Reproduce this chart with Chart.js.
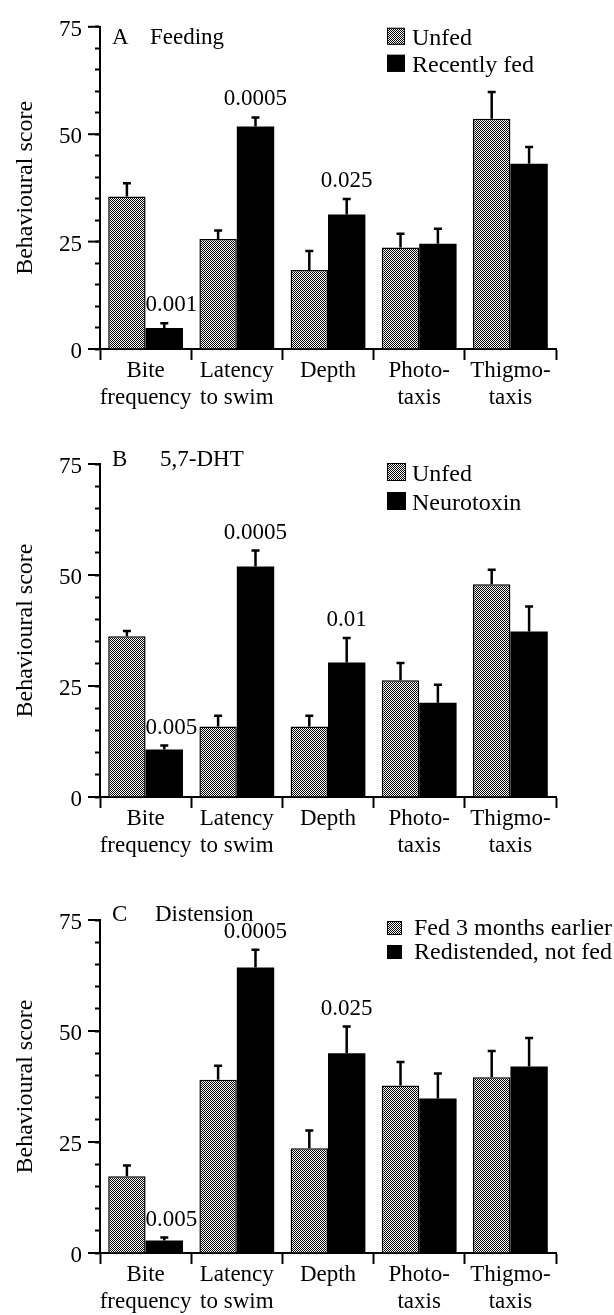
<!DOCTYPE html>
<html>
<head>
<meta charset="utf-8">
<script src="https://cdn.jsdelivr.net/npm/chart.js@4"></script>
<style>
  body { margin: 0; background: #fff; }
  .panel { position: relative; width: 614px; }
</style>
</head>
<body>
<div class="panel" style="height:430px"><canvas id="chartA"></canvas></div>
<div class="panel" style="height:440px"><canvas id="chartB"></canvas></div>
<div class="panel" style="height:445px"><canvas id="chartC"></canvas></div>
<script>
// categories (two-line labels)
const categories = [['Bite', 'frequency'], ['Latency', 'to swim'], ['Depth'], ['Photo-', 'taxis'], ['Thigmo-', 'taxis']];
const yMajorTicks = [0, 25, 50, 75];

// A  Feeding
const feedingUnfed = [35.5, 25.6, 18.4, 23.6, 53.6];
const feedingUnfedErr = [3.1, 2.0, 4.4, 3.2, 6.2];
const feedingFed = [4.9, 51.8, 31.3, 24.5, 43.1];
const feedingFedErr = [1.1, 2.1, 3.6, 3.5, 3.9];
const feedingP = ['0.001', '0.0005', '0.025', '', ''];

// B  5,7-DHT
const dhtUnfed = [36.2, 15.9, 15.9, 26.3, 47.9];
const dhtUnfedErr = [1.2, 2.4, 2.4, 3.9, 3.3];
const dhtToxin = [10.7, 51.9, 30.3, 21.2, 37.3];
const dhtToxinErr = [0.9, 3.6, 5.5, 4.1, 5.6];
const dhtP = ['0.005', '0.0005', '0.01', '', ''];

// C  Distension
const distFed = [17.3, 39.0, 23.6, 37.7, 39.6];
const distFedErr = [2.4, 3.2, 4.0, 5.3, 5.9];
const distRedist = [2.8, 64.3, 45.0, 34.8, 42.0];
const distRedistErr = [0.7, 4.0, 6.0, 5.6, 6.4];
const distP = ['0.005', '0.0005', '0.025', '', ''];

const FONT = '"Liberation Serif", "Times New Roman", serif';
const FS = 23;
Chart.defaults.font.family = FONT;
Chart.defaults.color = '#000';

// fine checker fill for the light bars
function makeHatch() {
    const c = document.createElement('canvas');
    c.width = 4; c.height = 4;
    const g = c.getContext('2d');
    g.fillStyle = '#fff';
    g.fillRect(0, 0, 4, 4);
    g.fillStyle = '#000';
    for (let y = 0; y < 4; y++) {
        for (let x = 0; x < 4; x++) {
            if ((x + y) % 2 === 0) g.fillRect(x, y, 1, 1);
        }
    }
    return g.createPattern(c, 'repeat');
}
const hatch = makeHatch();

// error bars, p values, legend, panel title, long ticks
const decor = {
    id: 'decor',
    afterDatasetsDraw(chart, args, opts) {
        const ctx = chart.ctx, y = chart.scales.y;
        ctx.save();
        ctx.strokeStyle = '#000';
        ctx.lineWidth = 2.5;
        chart.data.datasets.forEach((ds, d) => {
            chart.getDatasetMeta(d).data.forEach((bar, i) => {
                const top = y.getPixelForValue(ds.data[i] + ds.errors[i]);
                ctx.beginPath();
                ctx.moveTo(bar.x, bar.y);
                ctx.lineTo(bar.x, top);
                ctx.moveTo(bar.x - 4, top);
                ctx.lineTo(bar.x + 4, top);
                ctx.stroke();
            });
        });

        const ds = chart.data.datasets[1];
        const meta = chart.getDatasetMeta(1);
        ctx.fillStyle = '#000';
        ctx.font = FS + 'px ' + FONT;
        ctx.textBaseline = 'middle';
        opts.pValues.forEach((p, i) => {
            if (!p) return;
            const bar = meta.data[i];
            const top = y.getPixelForValue(ds.data[i] + ds.errors[i]);
            if (i === 0) {
                ctx.textAlign = 'left';
                ctx.fillText(p, bar.x - bar.width / 2, top - 18);
            } else {
                ctx.textAlign = 'center';
                ctx.fillText(p, bar.x, top - 18);
            }
        });
        ctx.restore();
    },
    afterDraw(chart, args, opts) {
        const ctx = chart.ctx, area = chart.chartArea, y = chart.scales.y;
        ctx.save();
        ctx.strokeStyle = '#000';
        ctx.lineWidth = 2;
        yMajorTicks.forEach(v => {
            const py = y.getPixelForValue(v);
            ctx.beginPath();
            ctx.moveTo(area.left - 12, py);
            ctx.lineTo(area.left, py);
            ctx.stroke();
        });

        ctx.fillStyle = '#000';
        ctx.font = FS + 'px ' + FONT;
        ctx.textAlign = 'left';
        ctx.textBaseline = 'alphabetic';
        ctx.fillText(opts.letter, area.left + 12, area.top + opts.titleY);
        ctx.fillText(opts.title, area.left + opts.titleX, area.top + opts.titleY);

        const L = opts.legend;
        ctx.font = '24px ' + FONT;
        chart.data.datasets.forEach((ds, d) => {
            const bx = area.left + L.x, by = area.top + L.y + d * L.row;
            ctx.fillStyle = ds.backgroundColor;
            ctx.fillRect(bx, by, L.box, L.box - 1);
            ctx.lineWidth = 1;
            ctx.strokeRect(bx + 0.5, by + 0.5, L.box - 1, L.box - 2);
            ctx.fillStyle = '#000';
            ctx.fillText(ds.label, bx + L.box + L.gap, by + L.box - 1);
        });
        ctx.restore();
    }
};

function drawPanel(id, cfg) {
    new Chart(document.getElementById(id), {
        type: 'bar',
        data: {
            labels: categories,
            datasets: [{
                label: cfg.names[0],
                data: cfg.a,
                errors: cfg.aErr,
                backgroundColor: hatch,
                borderColor: '#000',
                borderWidth: 1.5,
                borderSkipped: 'bottom'
            },
            {
                label: cfg.names[1],
                data: cfg.b,
                errors: cfg.bErr,
                backgroundColor: '#000',
                borderWidth: 0
            }]
        },
        options: {
            responsive: true,
            maintainAspectRatio: false,
            animation: false,
            layout: { padding: { top: cfg.top, right: 58, left: 0, bottom: 0 } },
            datasets: { bar: { categoryPercentage: 0.82, barPercentage: 1 } },
            plugins: {
                legend: { display: false },
                tooltip: { enabled: false },
                decor: {
                    pValues: cfg.p,
                    letter: cfg.letter,
                    title: cfg.title,
                    titleX: cfg.titleX,
                    titleY: cfg.titleY,
                    legend: cfg.legend
                }
            },
            scales: {
                x: {
                    grid: { offset: true, drawOnChartArea: false, tickLength: 11, tickWidth: 2, tickColor: '#000' },
                    border: { color: '#000', width: 2 },
                    ticks: { color: '#000', padding: -3, maxRotation: 0, autoSkip: false, font: { size: FS, lineHeight: 1.18 } },
                    afterFit: s => { s.height = cfg.bottom; }
                },
                y: {
                    min: 0,
                    max: 75,
                    ticks: {
                        stepSize: 5,
                        autoSkip: false,
                        color: '#000',
                        padding: 13,
                        labelOffset: 3,
                        font: { size: FS },
                        callback: v => yMajorTicks.includes(v) ? String(v) : ''
                    },
                    grid: { drawOnChartArea: false, tickLength: 5, tickWidth: 2, tickColor: '#000' },
                    border: { color: '#000', width: 2 },
                    title: { display: true, text: 'Behavioural score', color: '#000', font: { size: 24 }, padding: { top: 11, bottom: 0 } },
                    afterFit: s => { s.width = 100; }
                }
            }
        },
        plugins: [decor]
    });
}

drawPanel('chartA', {
    names: ['Unfed', 'Recently fed'],
    a: feedingUnfed, aErr: feedingUnfedErr, b: feedingFed, bErr: feedingFedErr, p: feedingP,
    letter: 'A', title: 'Feeding', titleX: 50, titleY: 17,
    legend: { x: 287, y: 1, row: 27, box: 18, gap: 7 },
    top: 15, bottom: 81
});

drawPanel('chartB', {
    names: ['Unfed', 'Neurotoxin'],
    a: dhtUnfed, aErr: dhtUnfedErr, b: dhtToxin, bErr: dhtToxinErr, p: dhtP,
    letter: 'B', title: '5,7-DHT', titleX: 60, titleY: 2,
    legend: { x: 287, y: -1, row: 29, box: 19, gap: 6 },
    top: 34, bottom: 73
});

drawPanel('chartC', {
    names: ['Fed 3 months earlier', 'Redistended, not fed'],
    a: distFed, aErr: distFedErr, b: distRedist, bErr: distRedistErr, p: distP,
    letter: 'C', title: 'Distension', titleX: 55, titleY: 1,
    legend: { x: 287, y: 1, row: 24, box: 15, gap: 12 },
    top: 50, bottom: 62
});
</script>
</body>
</html>
